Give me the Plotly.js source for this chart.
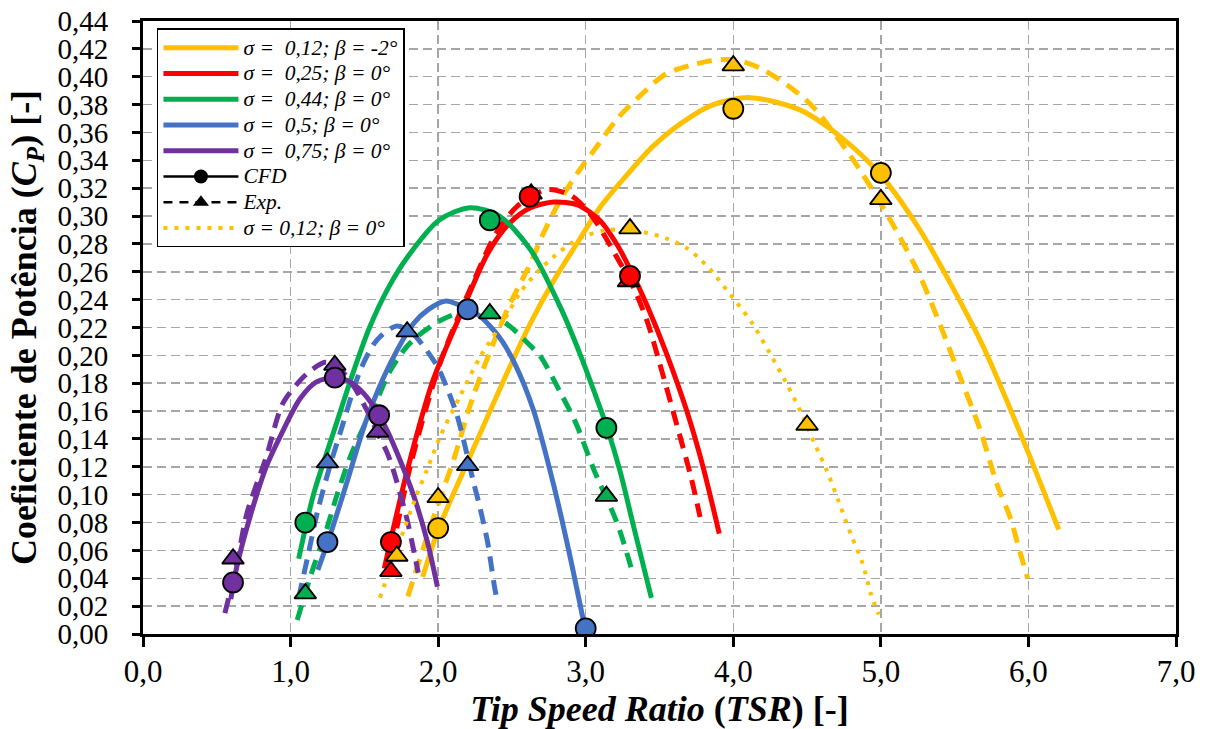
<!DOCTYPE html>
<html>
<head>
<meta charset="utf-8">
<script src="https://cdn.plot.ly/plotly-3.0.1.min.js"></script>
<style>html,body{margin:0;padding:0;background:#fff;}#chart{width:1206px;height:729px;}</style>
</head>
<body>
<div id="chart"></div>
<script>
// ---------- Data ----------
// sigma = 0.12; beta = -2 deg
const yellowCfdFitX = [1.895, 2.005, 2.235, 2.465, 2.625, 2.785, 2.945, 3.095, 3.275, 3.455, 3.665, 3.865, 4.115, 4.455, 4.725, 4.995, 5.265, 5.495, 5.695, 5.965, 6.205];
const yellowCfdFitY = [0.041, 0.076, 0.132, 0.187, 0.223, 0.254, 0.281, 0.306, 0.329, 0.350, 0.368, 0.380, 0.385, 0.376, 0.357, 0.330, 0.290, 0.247, 0.206, 0.139, 0.075];
const yellowExpFitX = [1.795, 1.925, 2.015, 2.105, 2.235, 2.465, 2.625, 2.715, 2.825, 2.945, 3.055, 3.215, 3.365, 3.545, 3.825, 4.015, 4.185, 4.365, 4.535, 4.815, 5.065, 5.265, 5.405, 5.535, 5.675, 5.785, 5.875, 5.945, 5.995];
const yellowExpFitY = [0.027, 0.070, 0.098, 0.125, 0.170, 0.232, 0.266, 0.288, 0.311, 0.331, 0.347, 0.370, 0.386, 0.402, 0.411, 0.412, 0.406, 0.394, 0.379, 0.340, 0.297, 0.257, 0.221, 0.185, 0.146, 0.108, 0.084, 0.058, 0.040];
const yellowCfdX = [2.0, 4.0, 5.0];
const yellowCfdY = [0.076, 0.377, 0.331];
const yellowExpX = [2.0, 4.0, 5.0];
const yellowExpY = [0.098, 0.408, 0.312];

// sigma = 0.12; beta = 0 deg (dotted)
const yellow0FitX = [1.605, 1.725, 1.855, 1.925, 2.015, 2.145, 2.285, 2.445, 2.555, 2.665, 2.785, 2.895, 3.005, 3.145, 3.365, 3.545, 3.685, 3.765, 3.865, 3.955, 4.045, 4.135, 4.245, 4.355, 4.455, 4.545, 4.635, 4.715, 4.795, 4.875, 4.935, 4.985];
const yellow0FitY = [0.026, 0.062, 0.100, 0.118, 0.142, 0.170, 0.199, 0.225, 0.245, 0.259, 0.271, 0.280, 0.286, 0.290, 0.289, 0.284, 0.277, 0.270, 0.259, 0.247, 0.235, 0.222, 0.202, 0.181, 0.160, 0.138, 0.117, 0.095, 0.072, 0.051, 0.028, 0.014];
const yellow0ExpX = [1.72, 3.3, 4.5];
const yellow0ExpY = [0.056, 0.291, 0.150];

// sigma = 0.25; beta = 0 deg
const redCfdFitX = [1.635, 1.785, 1.965, 2.175, 2.335, 2.485, 2.625, 2.785, 2.945, 3.095, 3.215, 3.305, 3.415, 3.545, 3.685, 3.795, 3.905];
const redCfdFitY = [0.047, 0.115, 0.182, 0.235, 0.273, 0.295, 0.306, 0.310, 0.308, 0.297, 0.279, 0.261, 0.236, 0.202, 0.160, 0.120, 0.072];
const redExpFitX = [1.655, 1.815, 2.015, 2.235, 2.395, 2.535, 2.735, 2.895, 2.985, 3.075, 3.235, 3.305, 3.415, 3.515, 3.615, 3.715, 3.775];
const redExpFitY = [0.042, 0.122, 0.195, 0.252, 0.288, 0.307, 0.319, 0.315, 0.307, 0.295, 0.266, 0.253, 0.225, 0.189, 0.151, 0.112, 0.084];
const redCfdX = [1.68, 2.62, 3.30];
const redCfdY = [0.066, 0.314, 0.257];
const redExpX = [1.68, 2.63, 3.29];
const redExpY = [0.045, 0.316, 0.253];

// sigma = 0.44; beta = 0 deg
const greenCfdFitX = [1.055, 1.155, 1.295, 1.425, 1.535, 1.665, 1.795, 2.005, 2.215, 2.415, 2.625, 2.835, 2.965, 3.095, 3.145, 3.235, 3.325, 3.445];
const greenCfdFitY = [0.054, 0.100, 0.146, 0.188, 0.220, 0.249, 0.271, 0.297, 0.306, 0.300, 0.276, 0.233, 0.200, 0.163, 0.148, 0.116, 0.077, 0.026];
const greenExpFitX = [1.045, 1.155, 1.235, 1.315, 1.415, 1.515, 1.585, 1.675, 1.785, 1.875, 2.015, 2.125, 2.245, 2.365, 2.485, 2.615, 2.695, 2.825, 2.935, 3.055, 3.215, 3.315];
const greenExpFitY = [0.010, 0.048, 0.072, 0.100, 0.130, 0.153, 0.168, 0.189, 0.206, 0.215, 0.225, 0.230, 0.232, 0.229, 0.221, 0.208, 0.199, 0.174, 0.151, 0.118, 0.079, 0.045];
const greenCfdX = [1.10, 2.35, 3.14];
const greenCfdY = [0.080, 0.297, 0.148];
const greenExpX = [1.10, 2.35, 3.14];
const greenExpY = [0.029, 0.230, 0.099];

// sigma = 0.5; beta = 0 deg
const blueCfdFitX = [1.185, 1.265, 1.385, 1.515, 1.675, 1.835, 1.935, 2.055, 2.205, 2.285, 2.415, 2.515, 2.645, 2.785, 2.895, 2.995];
const blueCfdFitY = [0.046, 0.070, 0.110, 0.154, 0.194, 0.223, 0.233, 0.239, 0.233, 0.228, 0.213, 0.195, 0.161, 0.106, 0.055, 0.004];
const blueExpFitX = [1.055, 1.115, 1.185, 1.265, 1.335, 1.475, 1.585, 1.715, 1.815, 1.905, 1.995, 2.055, 2.125, 2.175, 2.235, 2.285, 2.335, 2.385, 2.405];
const blueExpFitY = [0.026, 0.055, 0.089, 0.120, 0.144, 0.190, 0.211, 0.221, 0.217, 0.206, 0.192, 0.178, 0.158, 0.138, 0.111, 0.090, 0.066, 0.032, 0.022];
const blueCfdX = [1.25, 2.20, 3.00];
const blueCfdY = [0.066, 0.233, 0.004];
const blueExpX = [1.25, 1.79, 2.20];
const blueExpY = [0.123, 0.217, 0.121];

// sigma = 0.75; beta = 0 deg
const purpleCfdFitX = [0.595, 0.635, 0.725, 0.835, 0.935, 1.065, 1.175, 1.295, 1.385, 1.475, 1.565, 1.655, 1.745, 1.835, 1.925, 1.995];
const purpleCfdFitY = [0.025, 0.048, 0.084, 0.120, 0.143, 0.169, 0.181, 0.184, 0.182, 0.175, 0.163, 0.146, 0.124, 0.099, 0.067, 0.034];
const purpleExpFitX = [0.555, 0.635, 0.705, 0.835, 0.945, 1.065, 1.135, 1.235, 1.315, 1.415, 1.515, 1.605, 1.655, 1.695, 1.785, 1.865];
const purpleExpFitY = [0.015, 0.050, 0.087, 0.127, 0.165, 0.182, 0.189, 0.195, 0.192, 0.180, 0.161, 0.141, 0.130, 0.118, 0.084, 0.044];
const purpleCfdX = [0.61, 1.30, 1.60];
const purpleCfdY = [0.037, 0.184, 0.157];
const purpleExpX = [0.61, 1.30, 1.59];
const purpleExpY = [0.054, 0.193, 0.145];

// Legend labels
const legendLabels = [
  '\u03c3 =\u00a0\u00a00,12; \u03b2 = -2\u00b0',
  '\u03c3 =\u00a0\u00a00,25; \u03b2 = 0\u00b0',
  '\u03c3 =\u00a0\u00a00,44; \u03b2 = 0\u00b0',
  '\u03c3 =\u00a0\u00a00,5; \u03b2 = 0\u00b0',
  '\u03c3 =\u00a0\u00a00,75; \u03b2 = 0\u00b0',
  'CFD',
  'Exp.',
  '\u03c3 = 0,12; \u03b2 = 0\u00b0'
];
const fmtLegend = (t) => '<span style="font-size:21.5px"><i>' + t + '</i></span>';

// ---------- Styles ----------
const YELLOW = '#FFC000', RED = '#FF0000', GREEN = '#00B050', BLUE = '#4472C4', PURPLE = '#7030A0';
const LW = 5;
const DASH = '15px,9px';
const DOT = '4px,7px';

const series = [
  {c: YELLOW, fx: yellowCfdFitX, fy: yellowCfdFitY, ex: yellowExpFitX, ey: yellowExpFitY, cx: yellowCfdX, cy: yellowCfdY, px: yellowExpX, py: yellowExpY, name: legendLabels[0]},
  {c: RED, fx: redCfdFitX, fy: redCfdFitY, ex: redExpFitX, ey: redExpFitY, cx: redCfdX, cy: redCfdY, px: redExpX, py: redExpY, name: legendLabels[1]},
  {c: GREEN, fx: greenCfdFitX, fy: greenCfdFitY, ex: greenExpFitX, ey: greenExpFitY, cx: greenCfdX, cy: greenCfdY, px: greenExpX, py: greenExpY, name: legendLabels[2]},
  {c: BLUE, fx: blueCfdFitX, fy: blueCfdFitY, ex: blueExpFitX, ey: blueExpFitY, cx: blueCfdX, cy: blueCfdY, px: blueExpX, py: blueExpY, name: legendLabels[3]},
  {c: PURPLE, fx: purpleCfdFitX, fy: purpleCfdFitY, ex: purpleExpFitX, ey: purpleExpFitY, cx: purpleCfdX, cy: purpleCfdY, px: purpleExpX, py: purpleExpY, name: legendLabels[4]}
];

const traces = [];
series.forEach((s, i) => {
  traces.push({x: s.fx, y: s.fy, type: 'scatter', mode: 'lines', name: fmtLegend(s.name), legendrank: i + 1,
    line: {color: s.c, width: LW, shape: 'spline', smoothing: 0.8}, hoverinfo: 'skip'});
  traces.push({x: s.ex, y: s.ey, type: 'scatter', mode: 'lines', showlegend: false,
    line: {color: s.c, width: LW, dash: DASH, shape: 'spline', smoothing: 0.8}, hoverinfo: 'skip'});
});
traces.push({x: yellow0FitX, y: yellow0FitY, type: 'scatter', mode: 'lines', name: fmtLegend(legendLabels[7]), legendrank: 8,
  line: {color: YELLOW, width: 4, dash: DOT, shape: 'spline', smoothing: 0.8}, hoverinfo: 'skip'});

traces.push({x: [null], y: [null], type: 'scatter', mode: 'lines+markers', name: fmtLegend(legendLabels[5]), legendrank: 6,
  line: {color: 'black', width: 2.5}, marker: {symbol: 'circle', size: 14, color: 'black'}});
traces.push({x: [null], y: [null], type: 'scatter', mode: 'lines+markers', name: fmtLegend(legendLabels[6]), legendrank: 7,
  line: {color: 'black', width: 2.5, dash: '9px,7px'}, marker: {symbol: 'triangle-up', size: 14, color: 'black'}});

series.forEach((s) => {
  traces.push({x: s.px, y: s.py, type: 'scatter', mode: 'markers', showlegend: false,
    marker: {symbol: 'triangle-up', size: 19, color: s.c, line: {color: 'black', width: 1.8}}});
  traces.push({x: s.cx, y: s.cy, type: 'scatter', mode: 'markers', showlegend: false,
    marker: {symbol: 'circle', size: 20, color: s.c, line: {color: 'black', width: 1.8}}});
});
traces.push({x: yellow0ExpX, y: yellow0ExpY, type: 'scatter', mode: 'markers', showlegend: false,
  marker: {symbol: 'triangle-up', size: 19, color: YELLOW, line: {color: 'black', width: 1.8}}});

const SERIF = 'Liberation Serif, serif';
const axisCommon = {
  showline: true, linecolor: 'black', linewidth: 3, mirror: true,
  ticks: 'outside', tickcolor: 'black', tickwidth: 3,
  showgrid: true, gridcolor: '#a6a6a6', gridwidth: 1.5, griddash: '9px,5px',
  zeroline: false, fixedrange: true
};

const layout = {
  width: 1206, height: 729,
  margin: {l: 143, r: 30, t: 21, b: 95},
  paper_bgcolor: 'white', plot_bgcolor: 'white',
  separators: ',.',
  font: {family: SERIF, color: 'black'},
  showlegend: true,
  xaxis: Object.assign({}, axisCommon, {
    range: [0, 7], tick0: 0, dtick: 1, tickformat: '.1f', ticklen: 10,
    tickfont: {family: SERIF, size: 31, color: 'black'}, ticklabelstandoff: -2,
    title: {text: '<b><i>Tip Speed Ratio</i> (<i>TSR</i>) [-]</b>', font: {family: SERIF, size: 36, color: 'black'}, standoff: 14}
  }),
  yaxis: Object.assign({}, axisCommon, {
    range: [0, 0.44], tick0: 0, dtick: 0.02, tickformat: '.2f', ticklen: 8,
    tickfont: {family: SERIF, size: 29, color: 'black'}, ticklabelstandoff: 18,
    title: {text: '<b>Coeficiente de Potência (<i>C<sub>P</sub></i>) [-]</b>', font: {family: SERIF, size: 36, color: 'black'}, standoff: 10}
  }),
  legend: {
    x: 0.0135, y: 0.988, xanchor: 'left', yanchor: 'top',
    bgcolor: 'white', bordercolor: 'black', borderwidth: 1.5,
    font: {family: SERIF, size: 17.5, color: 'black'},
    itemwidth: 75, tracegroupgap: 0
  }
};

Plotly.newPlot('chart', traces, layout, {displayModeBar: false, staticPlot: true});
</script>
</body>
</html>
